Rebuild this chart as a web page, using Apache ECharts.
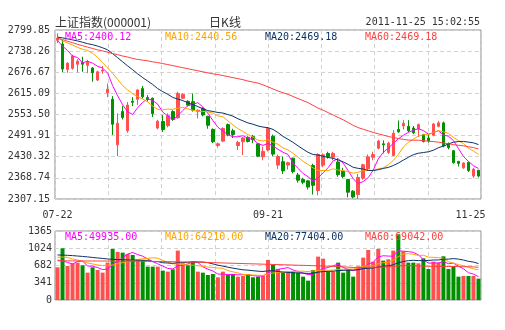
<!DOCTYPE html>
<html><head><meta charset="utf-8">
<script src="https://cdn.jsdelivr.net/npm/echarts/dist/echarts.min.js"></script>
<style>html,body{margin:0;padding:0;background:#fff}#c{width:505px;height:330px}</style>
</head><body><div id="c"></div>
<script>
const dates = ['07-22','07-25','07-26','07-27','07-28','07-29','08-01','08-02','08-03','08-04','08-05','08-08','08-09','08-10','08-11','08-12','08-15','08-16','08-17','08-18','08-19','08-22','08-23','08-24','08-25','08-26','08-29','08-30','08-31','09-01','09-02','09-05','09-06','09-07','09-08','09-09','09-13','09-14','09-15','09-16','09-19','09-20','09-21','09-22','09-23','09-26','09-27','09-28','09-29','09-30','10-10','10-11','10-12','10-13','10-14','10-17','10-18','10-19','10-20','10-21','10-24','10-25','10-26','10-27','10-28','10-31','11-01','11-02','11-03','11-04','11-07','11-08','11-09','11-10','11-11','11-14','11-15','11-16','11-17','11-18','11-21','11-22','11-23','11-24','11-25'];
const opens = [2770,2759,2685,2688,2700,2705,2697,2689,2654,2680, 2617,2598,2465,2562,2506,2592,2598,2629,2603,2601, 2514,2533,2521,2562,2544,2601,2592,2591,2562,2571, 2548,2510,2463,2476,2524,2506,2463,2474,2487,2489, 2468,2430,2450,2490,2406,2416,2406,2426,2377,2364, 2360,2405,2332,2406,2440,2429,2415,2388,2364,2330, 2320,2368,2395,2429,2455,2468,2443,2434,2510,2520, 2519,2514,2511,2495,2485,2493,2519,2529,2469,2448, 2417,2398,2414,2374,2391];
const closes = [2776,2686,2703,2724,2709,2700,2708,2675,2678,2683, 2627,2525,2528,2545,2581,2589,2625,2605,2597,2556, 2534,2510,2550,2539,2615,2612,2581,2566,2566,2552, 2522,2474,2468,2513,2494,2495,2472,2485,2475,2480, 2432,2446,2513,2438,2431,2389,2413,2387,2362,2356, 2342,2347,2437,2436,2431,2440,2378,2373,2327,2313, 2370,2407,2430,2437,2476,2465,2470,2499,2503,2528, 2506,2500,2524,2475,2477,2526,2529,2462,2457,2413, 2411,2412,2390,2394,2374];
const lows = [2762,2677,2675,2684,2676,2678,2674,2649,2651,2672, 2604,2494,2432,2539,2500,2578,2581,2600,2591,2546, 2510,2503,2516,2535,2541,2598,2577,2562,2542,2548, 2512,2470,2457,2473,2490,2485,2450,2435,2472,2470, 2429,2420,2446,2432,2395,2380,2393,2382,2355,2350, 2335,2320,2318,2400,2425,2420,2372,2368,2312,2309, 2307.15,2363,2390,2420,2452,2440,2438,2432,2500,2510, 2502,2496,2488,2472,2472,2490,2516,2458,2452,2410, 2402,2395,2386,2368,2370];
const highs = [2790,2771,2706,2728,2715,2722,2713,2692,2681,2695, 2644,2607,2557,2578,2590,2604,2627,2637,2610,2603, 2538,2552,2557,2566,2620,2615,2595,2615,2568,2575, 2550,2513,2472,2516,2527,2512,2477,2488,2490,2494, 2470,2460,2516,2495,2437,2431,2416,2428,2383,2369, 2362,2410,2440,2440,2445,2445,2426,2398,2366,2333, 2380,2410,2437,2445,2480,2478,2474,2508,2536,2537, 2537,2520,2527,2497,2495,2528,2535,2533,2472,2450, 2418,2414,2416,2398,2392];
const volumes = [647,1023,673,726,739,687,541,647,594,541, 739,1010,950,937,911,891,805,792,660,660, 660,581,561,607,977,726,693,759,561,541, 495,515,449,561,495,515,462,475,515,449, 462,475,792,693,614,541,561,561,541,462, 383,594,858,818,561,561,739,541,607,462, 666,838,990,759,1010,779,805,977,1300,963, 739,739,726,825,614,759,739,865,614,673, 462,475,475,475,422];
// moving-average values for days whose window starts before 07-22
const ma5Head = [2769,2753,2740,2724];
const ma10Head = [2778,2768,2762,2756,2749,2744,2740,2732,2720];
const ma20Head = [2779,2777,2774,2771,2768,2764,2760,2757,2753,2748,2742,2731,2719,2707,2695,2684,2672,2661,2651];
const ma60Head = [2776,2772,2767,2763,2758,2754,2750,2746,2742,2739,2735,2731,2728,2724,2721,2717,2714,2712,2710,2707,2705,2702,2699,2696,2693,2690,2687,2684,2681,2678,2675,2672,2670,2667,2664,2661,2658,2655,2651,2648,2645,2640,2634,2628,2622,2617,2612,2606,2600,2594,2588,2580,2572,2566,2559,2552,2545,2538,2530];
const vma5Head = [792,772,743,713];
const vma10Head = [845,851,841,812,792,762,733,713,693];
const vma20Head = [891,888,884,878,870,862,852,842,832,822,812,805,800,796,792,790,787,785,782];
const vma60Head = [775,775,774,774,773,773,772,772,771,771,770,770,769,768,768,767,766,765,764,763,762,760,759,757,755,753,751,749,747,745,742,739,736,733,730,727,724,721,718,715,712,709,706,703,700,697,694,691,688,685,682,679,676,672,668,664,660,656,650];
const priceTicks = ['2307.15','2368.74','2430.32','2491.91','2553.50','2615.09','2676.67','2738.26','2799.85'];
const volTicks = ['0','341','682','1024','1365'];
const xLabelIdx = [0, 42, 84];
const maNames = ['MA5','MA10','MA20','MA60'];
const maPriceText = ['2400.12','2440.56','2469.18','2469.18'];
const maVolText = ['49935.00','64210.00','77404.00','69042.00'];
const headerLeft = '上证指数(000001)';
const headerMid = '日K线';
const headerTime = '2011-11-25 15:02:55';

const UP = '#ff4f4f', DOWN = '#009000';
const maColors = ['#ff00ff','#ffa500','#0a3366','#ff4040'];
const mono = 'DejaVu Sans Mono';

function ma(vals, n, head){
  return vals.map((_, i) => {
    if (i < n - 1) return head[i];
    let s = 0; for (let k = i - n + 1; k <= i; k++) s += vals[k];
    return +(s / n).toFixed(2);
  });
}
const pMin = parseFloat(priceTicks[0]), pMax = parseFloat(priceTicks[priceTicks.length-1]);
const pInt = (pMax - pMin) / (priceTicks.length - 1);
const vMax = parseFloat(volTicks[volTicks.length-1]);
const vInt = vMax / (volTicks.length - 1);

const kData = dates.map((d, i) => [opens[i], closes[i], lows[i], highs[i]]);
const volData = volumes.map((v, i) => ({value: v, itemStyle: {color: closes[i] >= opens[i] ? UP : DOWN}}));
const pMA = [ma(closes,5,ma5Head), ma(closes,10,ma10Head), ma(closes,20,ma20Head), ma(closes,60,ma60Head)];
const vMA = [ma(volumes,5,vma5Head), ma(volumes,10,vma10Head), ma(volumes,20,vma20Head), ma(volumes,60,vma60Head)];

const dash = {color:'#d2d2d2', type:[4,3], width:1};
const chart = echarts.init(document.getElementById('c'), null, {renderer:'canvas'});
const lineSeries = [];
for (let k = 0; k < 4; k++) {
  lineSeries.push({type:'line', name:maNames[k], data:pMA[k], xAxisIndex:0, yAxisIndex:0, showSymbol:false, symbol:'none', lineStyle:{color:maColors[k], width:1}, z:5, silent:true});
  lineSeries.push({type:'line', name:'V'+maNames[k], data:vMA[k], xAxisIndex:2, yAxisIndex:1, showSymbol:false, symbol:'none', lineStyle:{color:maColors[k], width:1}, z:5, silent:true});
}
const texts = [
  {type:'text', style:{text:headerLeft, x:55, y:22, textVerticalAlign:'middle', font:'12px "Noto Sans CJK SC"', fill:'#333'}},
  {type:'text', style:{text:headerMid, x:225, y:22, textAlign:'center', textVerticalAlign:'middle', font:'12px "Noto Sans CJK SC"', fill:'#333'}},
  {type:'text', style:{text:headerTime, x:480, y:22, textAlign:'right', textVerticalAlign:'middle', font:'10px "'+mono+'"', fill:'#333'}}
];
const labelX = [65,165,265,365];
for (let k = 0; k < 4; k++) {
  texts.push({type:'text', z:10, style:{text:maNames[k]+':'+maPriceText[k], x:labelX[k], y:37, textVerticalAlign:'middle', font:'10px "'+mono+'"', fill:maColors[k]}});
  texts.push({type:'text', z:10, style:{text:maNames[k]+':'+maVolText[k], x:labelX[k], y:237, textVerticalAlign:'middle', font:'10px "'+mono+'"', fill:maColors[k]}});
}
chart.setOption({
  animation:false,
  backgroundColor:'#fff',
  grid:[
    {left:55, top:30, width:426, height:169, show:true, borderColor:'#8c8c8c', borderWidth:1, backgroundColor:'transparent'},
    {left:55, top:231, width:426, height:69, show:true, borderColor:'#8c8c8c', borderWidth:1, backgroundColor:'transparent'}
  ],
  xAxis:[
    {type:'category', gridIndex:0, data:dates, boundaryGap:true, axisLine:{show:false}, axisTick:{show:false}, splitLine:{show:false},
     axisLabel:{interval:(idx)=>xLabelIdx.includes(idx), margin:11, color:'#333', fontFamily:mono, fontSize:10,
       formatter:(val, idx)=> idx === dates.length-1 ? '{r|'+val+'}' : val,
       rich:{r:{padding:[0,16,0,0], color:'#333', fontFamily:mono, fontSize:10}}}},
    {type:'value', gridIndex:0, min:0, max:8, interval:1, position:'top', axisLine:{show:false}, axisTick:{show:false}, axisLabel:{show:false}, splitLine:{show:true, lineStyle:dash}},
    {type:'category', gridIndex:1, data:dates, boundaryGap:true, axisLine:{show:false}, axisTick:{show:false}, axisLabel:{show:false}, splitLine:{show:false}},
    {type:'value', gridIndex:1, min:0, max:8, interval:1, position:'top', axisLine:{show:false}, axisTick:{show:false}, axisLabel:{show:false}, splitLine:{show:true, lineStyle:dash}}
  ],
  yAxis:[
    {type:'value', gridIndex:0, min:pMin, max:pMax, interval:pInt, axisLine:{show:false}, axisTick:{show:false},
     axisLabel:{margin:5, color:'#333', fontFamily:mono, fontSize:10, formatter:(v)=>priceTicks[Math.round((v-pMin)/pInt)]},
     splitLine:{show:true, lineStyle:dash}},
    {type:'value', gridIndex:1, min:0, max:vMax, interval:vInt, axisLine:{show:false}, axisTick:{show:false},
     axisLabel:{margin:3, color:'#333', fontFamily:mono, fontSize:10, formatter:(v)=>volTicks[Math.round(v/vInt)]},
     splitLine:{show:true, lineStyle:dash}}
  ],
  graphic: texts,
  series:[
    {type:'candlestick', data:kData, xAxisIndex:0, yAxisIndex:0, barWidth:3, z:3,
     itemStyle:{color:UP, color0:DOWN, borderColor:UP, borderColor0:DOWN, borderWidth:1}},
    {type:'bar', data:volData, xAxisIndex:2, yAxisIndex:1, barWidth:4, z:3}
  ].concat(lineSeries)
});
</script></body></html>
